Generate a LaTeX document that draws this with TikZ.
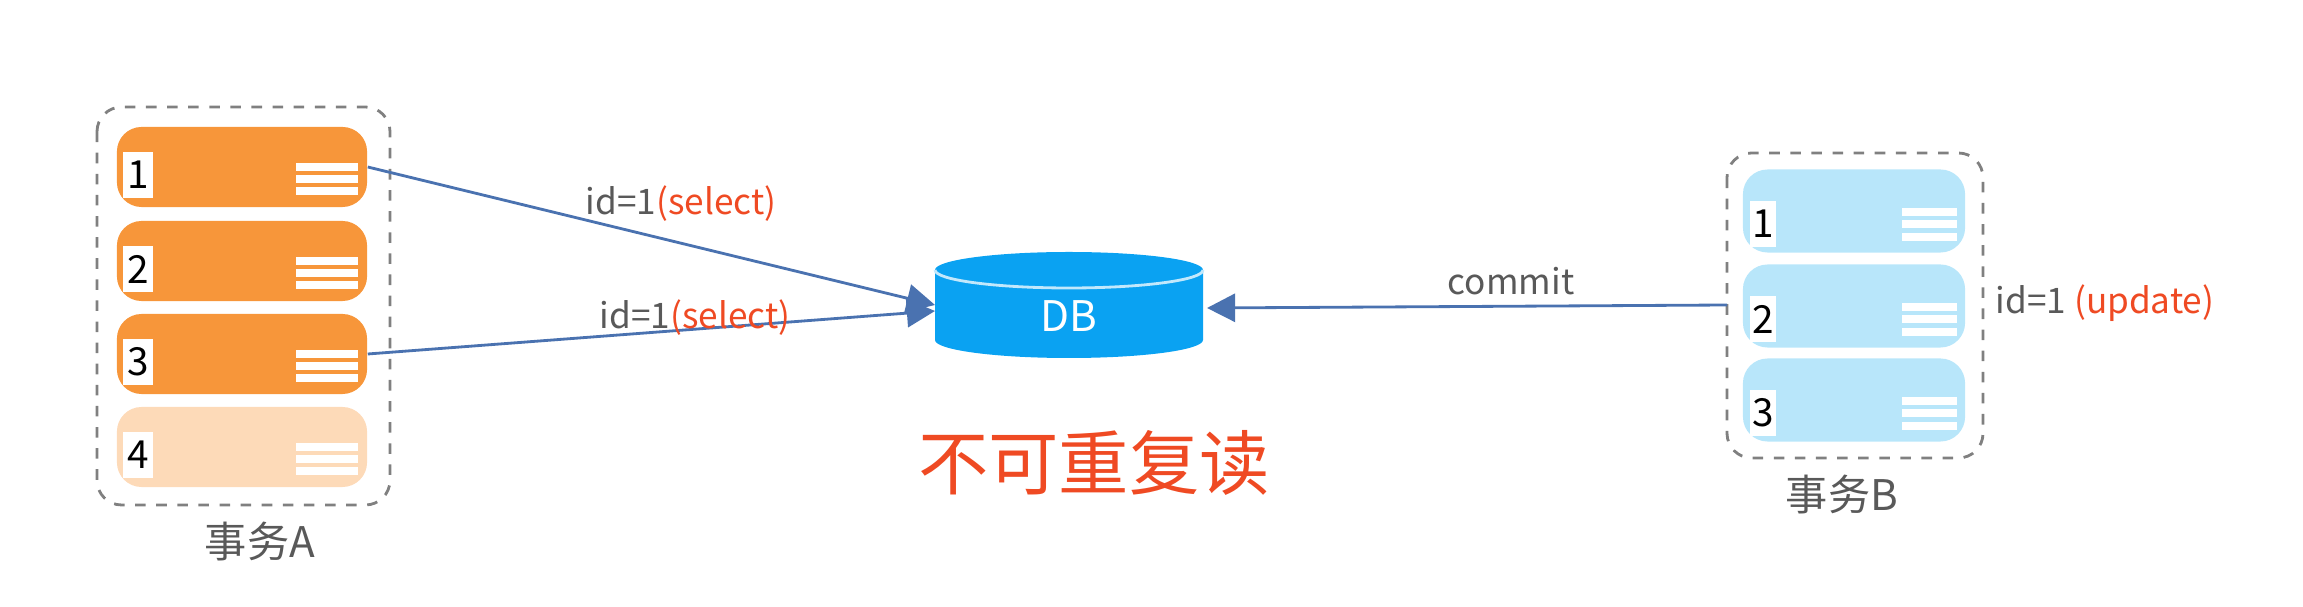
\documentclass[tikz,border=0pt]{standalone}
\usepackage{fontspec}
\setmainfont{Noto Sans CJK SC}
\usetikzlibrary{arrows.meta}
\definecolor{cardA}{HTML}{F7963A}
\definecolor{cardAlt}{HTML}{FDDAB8}
\definecolor{cardB}{HTML}{B8E6FA}
\definecolor{dbblue}{HTML}{0AA2F2}
\definecolor{arrowc}{HTML}{4A72B0}
\definecolor{txtgray}{HTML}{595959}
\definecolor{txtred}{HTML}{EF4A23}
\begin{document}
\begin{tikzpicture}[x=0.01cm,y=-0.01cm,font=\fontsize{10}{12}\selectfont]
    \tikzstyle{card} = [rounded corners=7pt, minimum width=2.5cm, minimum height=0.8cm, inner sep=0]
    \tikzstyle{note} = [fill=white, minimum width=0.3cm, minimum height=0.46cm, inner sep=0, font=\fontsize{11}{12}\selectfont]
    \tikzstyle{group} = [draw=gray, dashed, rounded corners=7pt, thick]
    \tikzstyle{link} = [-{Triangle[length=8pt,width=8pt]}, arrowc, thick]
    \tikzstyle{lbl} = [txtgray, inner sep=0]
    \useasboundingbox (0,0) rectangle (2303,607);
        % transaction A
        \draw[group] (97,107) rectangle (390,505);
        \foreach \i/\y/\c in {1/167/cardA,2/261/cardA,3/354/cardA,4/447/cardAlt} {
            \node[card,fill=\c] (a\i) at (242,\y) {};
            \node[note] (na\i) at (138,\y+8) {\i};
            \foreach \d in {0,12,24}
                \draw[white,line width=2.4pt] (296,\y+\d) -- (358,\y+\d);
        }
        \node[lbl,font=\fontsize{12}{14}\selectfont] (tA) at (260,542) {事务A};
        % transaction B
        \draw[group] (1727,153) rectangle (1983,458);
        \foreach \i/\y in {1/211,2/306,3/400} {
            \node[card,fill=cardB,minimum width=2.22cm,minimum height=0.83cm] (b\i) at (1854,\y) {};
            \node[note,minimum width=0.26cm] (nb\i) at (1763,\y+13) {\i};
            \foreach \d in {1,13,26}
                \draw[white,line width=2pt] (1902,\y+\d) -- (1957,\y+\d);
        }
        \node[lbl,font=\fontsize{12}{14}\selectfont] (tB) at (1842,495) {事务B};
        \node[lbl,anchor=west] (upd) at (1995,303) {id=1 \textcolor{txtred}{(update)}};
        \coordinate (bw) at (1727,305);
        % database
        \fill[dbblue] (935,270) -- (935,340) arc[start angle=180,end angle=0,x radius=134,y radius=18]
            -- (1203,270) arc[start angle=0,end angle=-180,x radius=134,y radius=18] -- cycle;
        \draw[white!75!dbblue,thick] (935,270) arc[start angle=180,end angle=0,x radius=134,y radius=18];
        \node[white,font=\fontsize{12}{14}\selectfont] (db) at (1069,316) {DB};
        \coordinate (dbA) at (935,305);
        \coordinate (dbB) at (935,311);
        \coordinate (dbE) at (1207,308);
        % links
        \draw[link] (a1.east) -- (dbA);
        \draw[link] (a3.east) -- (dbB);
        \draw[link] (bw) -- (dbE);
        \node[lbl,anchor=west] (s1) at (585,204) {id=1\textcolor{txtred}{(select)}};
        \node[lbl,anchor=west] (s2) at (599,318) {id=1\textcolor{txtred}{(select)}};
        \node[lbl] (cm) at (1511,281) {commit};
        \node[txtred,font=\fontsize{20}{24}\selectfont] (title) at (1094,463) {不可重复读};
    \end{tikzpicture}
\end{document}
